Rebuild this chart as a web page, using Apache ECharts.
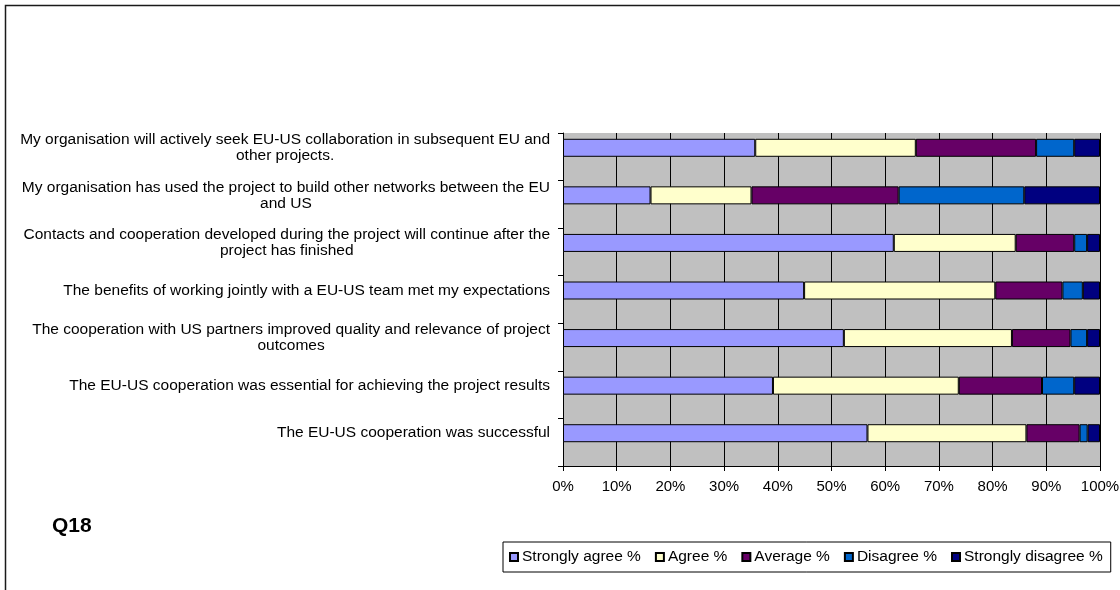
<!DOCTYPE html>
<html>
<head>
<meta charset="utf-8">
<title>Q18</title>
<script src="https://cdn.jsdelivr.net/npm/echarts@6/dist/echarts.min.js"></script>
<style>
  html, body { margin: 0; padding: 0; background: #ffffff; }
  #chart { width: 1120px; height: 590px; }
</style>
</head>
<body>
<div id="chart"></div>
<script>
// Survey statements, listed top to bottom
const questions = [
  'My organisation will actively seek EU-US collaboration in subsequent EU and\nother projects.',
  'My organisation has used the project to build other networks between the EU\nand US',
  'Contacts and cooperation developed during the project will continue after the\nproject has finished',
  'The benefits of working jointly with a EU-US team met my expectations',
  'The cooperation with US partners improved quality and relevance of project\noutcomes',
  'The EU-US cooperation was essential for achieving the project results',
  'The EU-US cooperation was successful'
];

// Answer categories (legend order)
const answerNames = ['Strongly agree %', 'Agree %', 'Average %', 'Disagree %', 'Strongly disagree %'];

// Share of answers per statement, in %
const stronglyAgree    = [35.8, 16.3, 61.6, 44.9, 52.3, 39.1, 56.7];
const agree            = [29.9, 18.8, 22.7, 35.6, 31.3, 34.6, 29.6];
const average          = [22.4, 27.4, 10.9, 12.5, 10.9, 15.5,  9.9];
const disagree         = [ 7.1, 23.4,  2.4,  3.8,  3.1,  6.0,  1.5];
const stronglyDisagree = [ 4.8, 14.1,  2.4,  3.2,  2.4,  4.8,  2.3];

const answerColors = ['#9999FF', '#FFFFCC', '#660066', '#0066CC', '#000080'];

const FONT = 'Arial, "Liberation Sans", sans-serif';
const valueSets = [stronglyAgree, agree, average, disagree, stronglyDisagree];

const series = answerNames.map((name, i) => ({
  name: name,
  type: 'bar',
  stack: 'answers',
  data: valueSets[i],
  barWidth: 18,
  barGap: '0%',
  itemStyle: { color: answerColors[i], borderColor: '#000000', borderWidth: 1 }
}));

// Empty companion column that keeps each stacked bar in the upper half of its band
series.push({
  name: 'spacer',
  type: 'bar',
  stack: 'spacer',
  data: questions.map(() => 0),
  barWidth: 18,
  barGap: '0%',
  silent: true,
  itemStyle: { color: 'rgba(0,0,0,0)', borderWidth: 0 }
});

const chart = echarts.init(document.getElementById('chart'), null, { renderer: 'canvas' });

chart.setOption({
  animation: false,
  backgroundColor: '#ffffff',
  textStyle: { fontFamily: FONT },
  title: {
    text: 'Q18',
    left: 47,
    top: 511,
    textStyle: { fontFamily: FONT, fontSize: 21, fontWeight: 'bold', color: '#000000' }
  },
  legend: {
    data: answerNames,
    left: 503,
    top: 542,
    orient: 'horizontal',
    icon: 'rect',
    itemWidth: 8,
    itemHeight: 8,
    itemGap: 14,
    padding: [7, 8, 7, 6],
    borderColor: '#000000',
    borderWidth: 1,
    selectedMode: false,
    textStyle: { fontFamily: FONT, fontSize: 15.5, color: '#000000', padding: [0, 0, 0, -1] }
  },
  grid: {
    left: 563,
    right: 20,
    top: 133,
    bottom: 124,
    show: true,
    backgroundColor: '#C0C0C0',
    borderWidth: 0,
    outerBoundsMode: 'none'
  },
  xAxis: {
    type: 'value',
    min: 0,
    max: 100,
    interval: 10,
    axisLine: { show: true, lineStyle: { color: '#000000', width: 1 } },
    axisTick: { show: true, length: 5, lineStyle: { color: '#000000' } },
    axisLabel: { formatter: '{value}%', fontFamily: FONT, fontSize: 15, color: '#000000', margin: 13 },
    splitLine: { show: true, lineStyle: { color: '#000000', width: 1 } }
  },
  yAxis: {
    type: 'category',
    data: questions,
    inverse: true,
    axisLine: { show: true, lineStyle: { color: '#000000', width: 1 } },
    axisTick: { show: true, length: 5, alignWithLabel: false, lineStyle: { color: '#000000' } },
    splitLine: { show: false },
    axisLabel: {
      interval: 0,
      margin: 13,
      fontFamily: FONT,
      fontSize: 15.5,
      color: '#000000',
      lineHeight: 16,
      padding: [0, 0, 18, 0],
      formatter: (v) => v.split('\n').map(line => '{c|' + line + '}').join('\n'),
      rich: { c: { align: 'center', fontFamily: FONT, fontSize: 15.5, lineHeight: 16, color: '#000000' } }
    }
  },
  graphic: [{
    type: 'rect',
    shape: { x: 5.5, y: 5.5, width: 1400, height: 900 },
    style: { fill: 'none', stroke: '#1a1a1a', lineWidth: 1.5 },
    silent: true,
    z: 100
  }],
  series: series
});
</script>
</body>
</html>
